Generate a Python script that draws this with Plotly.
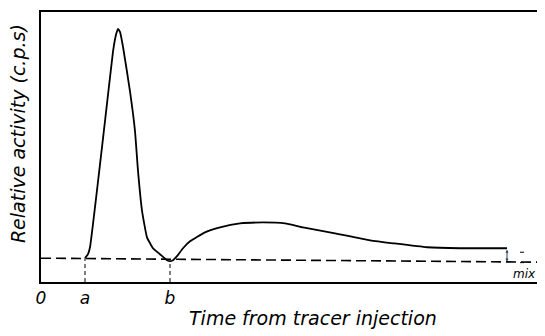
import plotly.graph_objects as go

# Time (arbitrary units) and relative activity (arbitrary units)
curve_t = [44, 47, 49, 64, 72, 75, 77, 79, 82, 89, 94, 97, 101, 106, 112, 119, 126, 129,
           132, 136, 142, 149, 164, 179, 199, 222, 244, 262, 294, 329, 352, 386, 419, 466]
curve_a = [24, 28, 35, 162, 232, 249, 255, 252, 237, 192, 152, 112, 72, 45, 34, 28, 22, 21,
           22, 26, 34, 41, 50, 55, 59, 60, 59, 55, 49, 42, 39, 35, 34, 34]

baseline_t = [0, 499]
baseline_a = [24, 20]

a_time = 44
b_time = 129
mix_time = 466
mix_top = 34
mix_bottom = 20.6

tick_vals = [0, a_time, b_time]
tick_text = ["0", "a", "b"]

fig = go.Figure()

fig.add_trace(go.Scatter(x=baseline_t, y=baseline_a, mode="lines",
                         line=dict(color="black", width=1.6, dash="10px,5px"),
                         hoverinfo="skip"))
fig.add_trace(go.Scatter(x=curve_t, y=curve_a, mode="lines",
                         line=dict(color="black", width=1.8, shape="spline", smoothing=0.4),
                         hoverinfo="skip"))
# vertical dashed guides at a and b
fig.add_trace(go.Scatter(x=[a_time, a_time], y=[0, 24], mode="lines",
                         line=dict(color="black", width=1, dash="4px,3px"), hoverinfo="skip"))
fig.add_trace(go.Scatter(x=[b_time, b_time], y=[0, 21], mode="lines",
                         line=dict(color="black", width=1, dash="4px,3px"), hoverinfo="skip"))
# small level marks beside the mix arrow
fig.add_trace(go.Scatter(x=[479, 483, None, 479, 483], y=[30, 30, None, 19.5, 19.5], mode="lines",
                         line=dict(color="black", width=1), hoverinfo="skip"))

annotations = [
    dict(x=mix_time, y=mix_bottom, ax=mix_time, ay=mix_top, xref="x", yref="y",
         axref="x", ayref="y", showarrow=True, arrowhead=2, arrowsize=0.6,
         arrowwidth=1, arrowside="end+start", text=""),
    dict(x=497, y=mix_bottom - 3, xref="x", yref="y", text="mix",
         showarrow=False, xanchor="right", yanchor="top",
         font=dict(size=12, family="DejaVu Sans", style="italic", color="black")),
    dict(x=0.545, y=-0.132, xref="paper", yref="paper", text="Time from tracer injection",
         showarrow=False, xanchor="center", yanchor="middle",
         font=dict(size=19, family="DejaVu Sans", style="italic", color="black")),
    dict(x=-0.046, y=0.548, xref="paper", yref="paper", text="Relative activity (c.p.s)",
         showarrow=False, xanchor="center", yanchor="middle", textangle=-90,
         font=dict(size=19, family="DejaVu Sans", style="italic", color="black")),
]

fig.update_layout(
    width=537, height=328,
    margin=dict(l=33, r=5, t=2, b=54),
    paper_bgcolor="white", plot_bgcolor="white",
    showlegend=False,
    annotations=annotations,
    font=dict(family="DejaVu Sans", color="black"),
)
fig.update_xaxes(range=[0, 499], showgrid=False, zeroline=False,
                 showline=True, linecolor="black", linewidth=1.6, mirror=True,
                 tickvals=tick_vals, ticktext=tick_text, ticks="",
                 tickfont=dict(size=17, style="italic", color="black"))
fig.update_yaxes(range=[0, 272], showgrid=False, zeroline=False,
                 showline=True, linecolor="black", linewidth=1.6, mirror=True,
                 showticklabels=False, ticks="")

fig.write_html("out.html")
